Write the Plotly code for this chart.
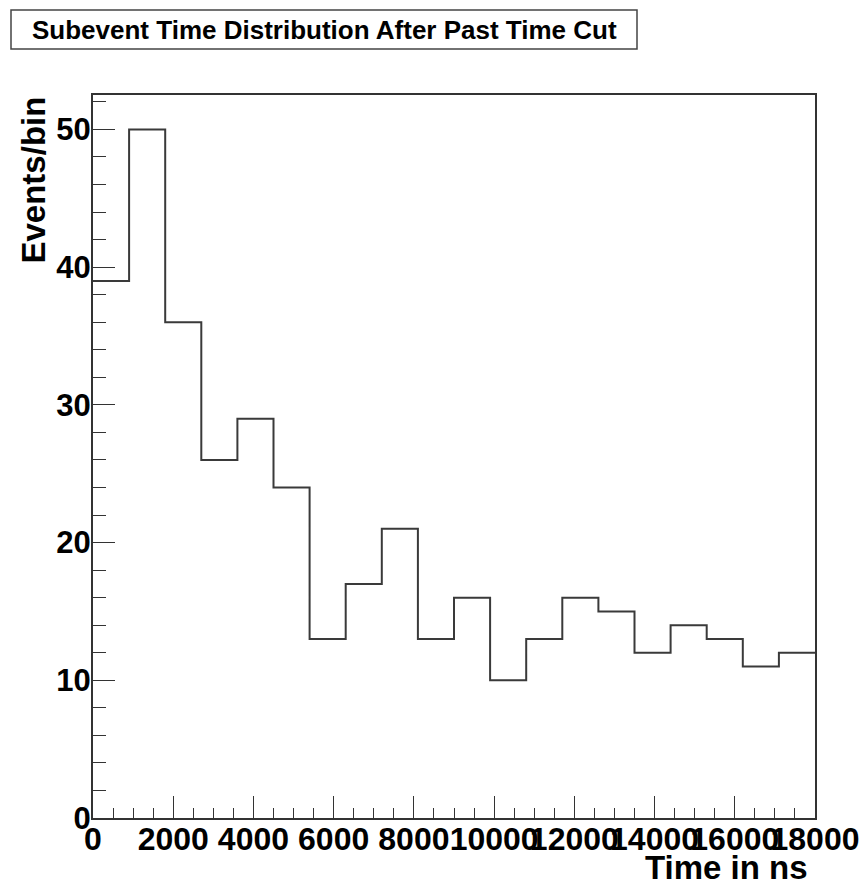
import plotly.graph_objects as go

# Data
bin_width = 900
counts = [39, 50, 36, 26, 29, 24, 13, 17, 21, 13, 16, 10, 13, 16, 15, 12, 14, 13, 11, 12]
edges = [i * bin_width for i in range(len(counts) + 1)]
x_tick_vals = [0, 2000, 4000, 6000, 8000, 10000, 12000, 14000, 16000, 18000]
x_tick_text = ["0", "2000", "4000", "6000", "8000", "10000", "12000", "14000", "16000", "18000"]
y_tick_vals = [0, 10, 20, 30, 40, 50]
y_tick_text = ["0", "10", "20", "30", "40", "50"]
title_text = "Subevent Time Distribution After Past Time Cut"
x_title = "Time in ns"
y_title = "Events/bin"

W, H = 865, 888
L, R, T, B = 93, 815, 95, 818


def px(xp):
    return (xp - L) / (R - L)


def py(yp):
    return (B - yp) / (B - T)


FONT = "Liberation Sans, Arial, Helvetica, sans-serif"
LINE = "#333333"

fig = go.Figure()
fig.add_trace(go.Scatter(
    x=edges, y=counts + [counts[-1]], mode="lines",
    line=dict(shape="hv", color="#3a3a3a", width=2),
    hoverinfo="skip", showlegend=False,
))

fig.update_layout(
    width=W, height=H,
    margin=dict(l=L, r=W - R, t=T, b=H - B, autoexpand=False),
    plot_bgcolor="white", paper_bgcolor="white",
    font=dict(family=FONT, color="black"),
    xaxis=dict(
        range=[0, 18000], tickvals=x_tick_vals, ticktext=x_tick_text,
        ticks="inside", ticklen=22, ticklabelstandoff=-8, automargin=False,
        tickwidth=1, tickcolor=LINE, showline=True, linecolor=LINE, linewidth=2,
        mirror=True, showgrid=False, zeroline=False, tickangle=0,
        tickfont=dict(size=32, family=FONT, weight="bold"),
        minor=dict(dtick=500, ticks="inside", ticklen=10, tickcolor=LINE, showgrid=False),
    ),
    yaxis=dict(
        range=[0, 52.5], tickvals=y_tick_vals, ticktext=y_tick_text,
        ticks="inside", ticklen=22, ticklabelstandoff=-6, automargin=False,
        tickwidth=1, tickcolor=LINE, showline=True, linecolor=LINE, linewidth=2,
        mirror=True, showgrid=False, zeroline=False,
        tickfont=dict(size=31, family=FONT, weight="bold"),
        minor=dict(dtick=2, ticks="inside", ticklen=13, tickcolor=LINE, showgrid=False),
    ),
)

# Title box
fig.add_shape(type="rect", xref="paper", yref="paper",
              x0=px(11), x1=px(637), y0=py(49), y1=py(10),
              line=dict(color="#444444", width=1.5), fillcolor="white")
fig.add_annotation(xref="paper", yref="paper", x=px(324), y=py(30),
                   text=title_text, showarrow=False, xanchor="center", yanchor="middle",
                   font=dict(size=26, family=FONT, weight="bold", color="black"))

# Axis titles
fig.add_annotation(xref="paper", yref="paper", x=px(810), y=py(867),
                   text=x_title, showarrow=False, xanchor="right", yanchor="middle",
                   font=dict(size=33, family=FONT, weight="bold", color="black"))
fig.add_annotation(xref="paper", yref="paper", x=px(33), y=py(95),
                   text=y_title, showarrow=False, textangle=-90,
                   xanchor="center", yanchor="top",
                   font=dict(size=33, family=FONT, weight="bold", color="black"))

fig.write_html("out.html")
